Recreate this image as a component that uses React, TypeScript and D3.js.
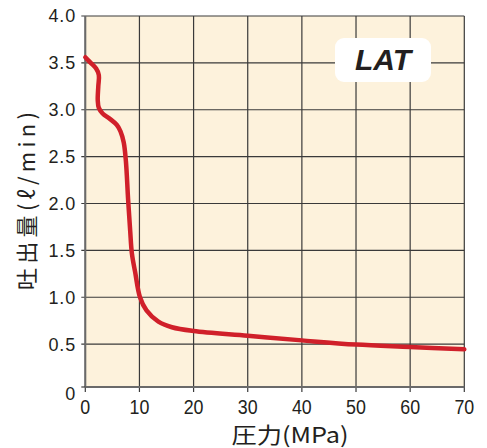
import React from "react";
import * as d3 from "d3";

const pressure = [0, 1, 2, 2.5, 2.4, 2.3, 2.5, 3.2, 4.6, 5.8, 6.5, 7.1, 7.5, 7.9, 8.3, 8.6, 9.2, 10.1, 11.3, 13.5, 16, 20, 30, 40, 50, 60, 70];
const flow = [3.56, 3.5, 3.44, 3.37, 3.25, 3.1, 3.02, 2.96, 2.9, 2.84, 2.77, 2.65, 2.45, 2.05, 1.7, 1.47, 1.27, 1.0, 0.86, 0.74, 0.68, 0.64, 0.59, 0.54, 0.495, 0.47, 0.445];
const xTicks = [0, 10, 20, 30, 40, 50, 60, 70];
const yTicks = [0, 0.5, 1.0, 1.5, 2.0, 2.5, 3.0, 3.5, 4.0];
const yTickLabels = ["0", "0.5", "1.0", "1.5", "2.0", "2.5", "3.0", "3.5", "4.0"];
const xTitle = "圧力(MPa)";
const yTitle = "吐出量(ℓ/min)";
const badge = "LAT";

export default function App() {
  const W = 487, H = 448;
  const x = d3.scaleLinear().domain([0, 70]).range([85.3, 464.3]);
  const y = d3.scaleLinear().domain([0, 4]).range([391, 16]);
  const plotTop = y(4);
  const plotBottom = 387;
  const left = x(0), right = x(70);
  const line = d3
    .line<number>()
    .x((_, i) => x(pressure[i]))
    .y((d) => y(d))
    .curve(d3.curveCatmullRom.alpha(0.5));
  const font = "'Liberation Sans', Arial, sans-serif";
  const cjk = "'Noto Sans CJK JP', 'Liberation Sans', sans-serif";
  const ink = "#231f20";
  return (
    <svg width={W} height={H} style={{ position: "absolute", left: 0, top: 0 }}>
      <rect x={0} y={0} width={W} height={H} fill="#ffffff" />
      <rect x={left} y={plotTop} width={right - left} height={plotBottom - plotTop} fill="#fdf2dc" />
      {yTicks.filter((t) => t > 0).map((t) => (
        <line key={"gy" + t} x1={left - 4} x2={right} y1={y(t)} y2={y(t)} stroke="#3a3a3a" strokeWidth={1.2} />
      ))}
      {xTicks.map((t) => (
        <line key={"gx" + t} x1={x(t)} x2={x(t)} y1={plotTop} y2={plotBottom + 5} stroke="#3a3a3a" strokeWidth={1.2} />
      ))}
      <line x1={left} x2={left} y1={plotTop} y2={plotBottom} stroke="#6a6a6a" strokeWidth={2} />
      <line x1={left} x2={right} y1={plotBottom} y2={plotBottom} stroke="#6a6a6a" strokeWidth={2} />
      <line x1={left - 4} x2={left} y1={plotBottom} y2={plotBottom} stroke="#3a3a3a" strokeWidth={1.2} />
      <path d={line(flow) || ""} fill="none" stroke="#d0202a" strokeWidth={4.5} strokeLinecap="round" strokeLinejoin="round" />
      {yTicks.map((t, i) => (
        <text
          key={"yl" + t}
          x={76}
          y={t === 0 ? y(t) + 3 : y(t)}
          dy="0.36em"
          textAnchor="end"
          fontFamily={font}
          fontSize={18}
          letterSpacing={0.8}
          fill={ink}
        >
          {yTickLabels[i]}
        </text>
      ))}
      {xTicks.map((t) => (
        <text
          key={"xl" + t}
          transform={`translate(${x(t)},414) scale(0.85,1)`}
          textAnchor="middle"
          fontFamily={font}
          fontSize={21}
          fill={ink}
        >
          {t}
        </text>
      ))}
      <text x={290} y={443} textAnchor="middle" fontFamily={cjk} fontSize={22} fill={ink} textLength={117} lengthAdjust="spacingAndGlyphs">
        {xTitle}
      </text>
      <text
        transform="translate(35,201) rotate(-90)"
        textAnchor="middle"
        fontFamily={cjk}
        fontSize={22}
        fill={ink}
        textLength={178}
        lengthAdjust="spacing"
      >
        {yTitle}
      </text>
      <rect x={335} y={38} width={96} height={44} rx={9} fill="#ffffff" />
      <text x={383} y={70} textAnchor="middle" fontFamily={font} fontWeight="bold" fontStyle="italic" fontSize={30} fill={ink}>
        {badge}
      </text>
    </svg>
  );
}
